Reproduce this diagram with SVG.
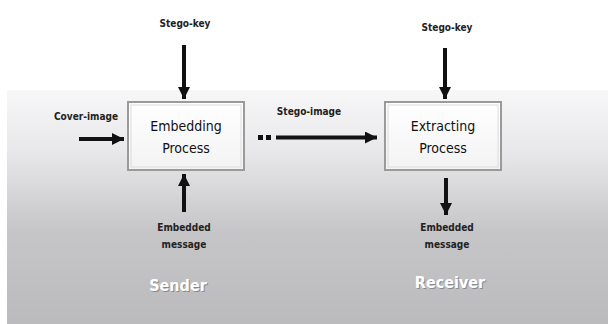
<svg xmlns="http://www.w3.org/2000/svg" width="608" height="324" viewBox="0 0 608 324">
<defs>
<linearGradient id="bg" x1="0" y1="0" x2="0" y2="1">
<stop offset="0" stop-color="#f8f7f8"/>
<stop offset="0.25" stop-color="#e9e8ea"/>
<stop offset="0.6" stop-color="#c6c5c8"/>
<stop offset="1" stop-color="#bbbabd"/>
</linearGradient>
<linearGradient id="boxg" x1="0" y1="0" x2="0" y2="1">
<stop offset="0" stop-color="#ffffff"/>
<stop offset="1" stop-color="#f3f3f3"/>
</linearGradient>
<marker id="ah" viewBox="0 0 10 10" refX="10" refY="5" markerWidth="3.2" markerHeight="3" orient="auto" markerUnits="strokeWidth">
<path d="M0,0 L10,5 L0,10 z" fill="#111"/>
</marker>
</defs>
<style>
.lbl{font-family:"DejaVu Sans Condensed","Liberation Sans",sans-serif;font-stretch:condensed;font-size:10px;font-weight:bold;fill:#222;text-anchor:middle}
.box{font-family:"DejaVu Sans Condensed","Liberation Sans",sans-serif;font-stretch:condensed;font-size:14px;fill:#111;text-anchor:middle}
.role{font-family:"DejaVu Sans Condensed","Liberation Sans",sans-serif;font-stretch:condensed;font-size:16px;font-weight:bold;fill:#ffffff;text-anchor:middle}
.shadow{fill:#8a898c}
.rect{fill:url(#boxg);stroke:#9a9a9a;stroke-width:2}
.con{stroke:#111;stroke-width:4;fill:none;marker-end:url(#ah)}
</style>
<rect x="0" y="0" width="608" height="324" fill="#ffffff"/>
<rect x="7" y="90" width="601" height="234" fill="url(#bg)"/>

<g id="embedding">
<rect class="rect" x="128" y="102" width="116" height="68"/>
<rect x="131" y="105" width="110" height="62" fill="none" stroke="#dcdcdc" stroke-width="1"/>
<text class="box" x="186" y="131">Embedding</text>
<text class="box" x="186" y="153">Process</text>
</g>

<g id="extracting">
<rect class="rect" x="385" y="102" width="116" height="68"/>
<rect x="388" y="105" width="110" height="62" fill="none" stroke="#dcdcdc" stroke-width="1"/>
<text class="box" x="443" y="131">Extracting</text>
<text class="box" x="443" y="153">Process</text>
</g>

<g id="labels">
<text class="lbl" x="185" y="27">Stego-key</text>
<text class="lbl" x="86" y="120">Cover-image</text>
<text class="lbl" x="309" y="115">Stego-image</text>
<text class="lbl" x="447" y="31">Stego-key</text>
<text class="lbl" x="184" y="231">Embedded</text>
<text class="lbl" x="184" y="248">message</text>
<text class="lbl" x="447" y="231">Embedded</text>
<text class="lbl" x="447" y="248">message</text>
</g>

<g id="sender">
<text class="role shadow" x="179" y="292">Sender</text>
<text class="role" x="178" y="291">Sender</text>
</g>
<g id="receiver">
<text class="role shadow" x="451" y="289">Receiver</text>
<text class="role" x="450" y="288">Receiver</text>
</g>

<g id="connectors">
<line class="con" x1="184" y1="45" x2="184" y2="99"/>
<line class="con" x1="79" y1="139" x2="124" y2="139"/>
<rect x="258" y="135" width="5" height="5" fill="#111"/>
<rect x="266" y="135" width="5" height="5" fill="#111"/>
<line class="con" x1="276" y1="137.5" x2="377" y2="137.5"/>
<line class="con" x1="445" y1="48" x2="445" y2="99"/>
<line class="con" x1="184" y1="212" x2="184" y2="174"/>
<line class="con" x1="446" y1="178" x2="446" y2="215"/>
</g>
</svg>
